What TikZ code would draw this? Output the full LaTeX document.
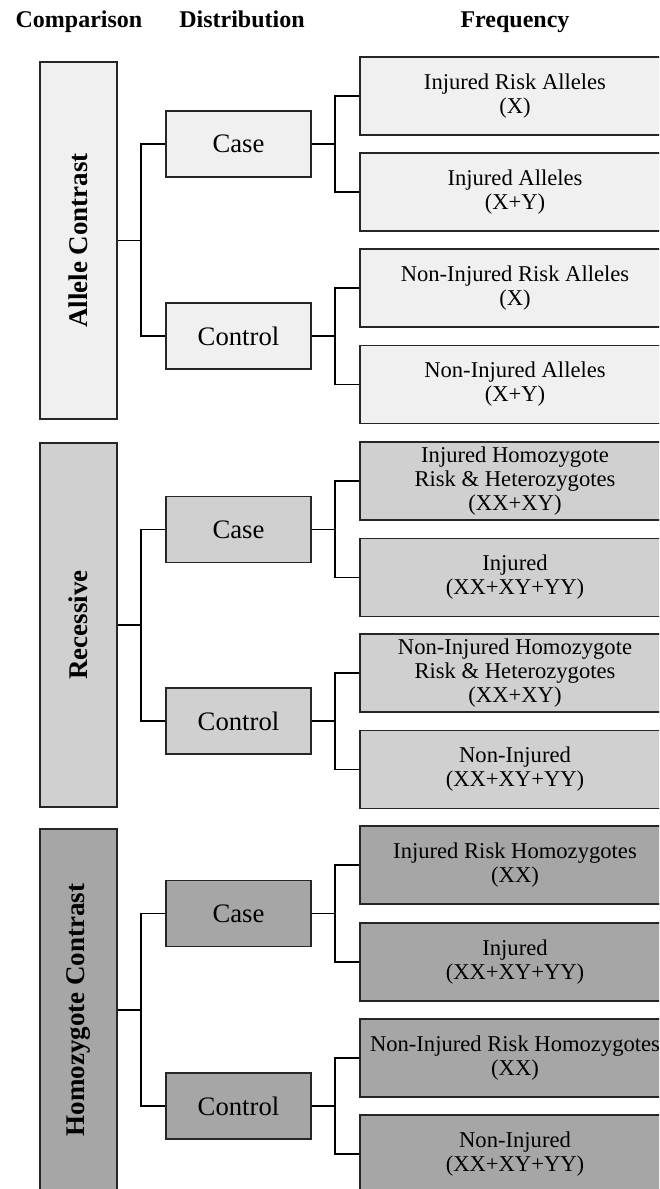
\documentclass[tikz,border=0pt]{standalone}
\usepackage{fontspec}
\setmainfont{Liberation Serif}
\definecolor{cA}{HTML}{F0F0F0}
\definecolor{cB}{HTML}{D0D0D0}
\definecolor{cC}{HTML}{A6A6A6}
\definecolor{bd}{HTML}{262626}
\tikzset{
  box/.style={draw=bd, line width=1.8pt, rectangle, inner sep=0pt, align=center},
  cmpbox/.style={box, minimum width=77pt, font=\fontsize{27}{30}\selectfont\bfseries},
  distbox/.style={box, minimum width=145pt, minimum height=66pt, font=\fontsize{26.7}{30}\selectfont},
  freqbox/.style={box, minimum width=310pt, minimum height=78pt, font=\fontsize{22.6}{24}\selectfont},
  hdr/.style={anchor=base, inner sep=0pt, font=\fontsize{24}{28}\selectfont\bfseries},
  conn/.style={draw=black, line width=1.4pt},
}
\begin{document}
\begin{tikzpicture}[x=1pt, y=-1pt]
\useasboundingbox (0,0) rectangle (659,1189);
\clip (0,0) rectangle (659,1189);
% headers
\node[hdr] (h1) at (79,27) {Comparison};
\node[hdr] (h2) at (242,27) {Distribution};
\node[hdr] (h3) at (515,27) {Frequency};

% ---------- Section 1 ----------
\node[cmpbox, fill=cA, minimum height=357pt] (a1) at (78.5,240.5) {\rotatebox{90}{Allele Contrast}};
\node[distbox, fill=cA] (s1case) at (238.5,144) {Case};
\node[distbox, fill=cA] (s1ctrl) at (238.5,336) {Control};
\node[freqbox, fill=cA] (s1f1) at (515,96) {Injured Risk Alleles\\(X)};
\node[freqbox, fill=cA] (s1f2) at (515,192) {Injured Alleles\\(X+Y)};
\node[freqbox, fill=cA] (s1f3) at (515,288) {Non-Injured Risk Alleles\\(X)};
\node[freqbox, fill=cA] (s1f4) at (515,384.5) {Non-Injured Alleles\\(X+Y)};
\coordinate (s1j) at (141,240.5);
\coordinate (s1k1) at (335,144);
\coordinate (s1k2) at (335,336);
\draw[conn] (a1.east) -- (s1j);
\draw[conn] (s1case.west) -| (s1j);
\draw[conn] (s1ctrl.west) -| (s1j);
\draw[conn] (s1case.east) -- (s1k1);
\draw[conn] (s1f1.west) -| (s1k1);
\draw[conn] (s1f2.west) -| (s1k1);
\draw[conn] (s1ctrl.east) -- (s1k2);
\draw[conn] (s1f3.west) -| (s1k2);
\draw[conn] (s1f4.west) -| (s1k2);

% ---------- Section 2 ----------
\node[cmpbox, fill=cB, minimum height=364pt] (a2) at (78.5,625) {\rotatebox{90}{Recessive}};
\node[distbox, fill=cB] (s2case) at (238.5,529.5) {Case};
\node[distbox, fill=cB] (s2ctrl) at (238.5,721) {Control};
\node[freqbox, fill=cB] (s2f1) at (515,481) {Injured Homozygote\\Risk \& Heterozygotes\\(XX+XY)};
\node[freqbox, fill=cB] (s2f2) at (515,577.5) {Injured\\(XX+XY+YY)};
\node[freqbox, fill=cB] (s2f3) at (515,673) {Non-Injured Homozygote\\Risk \& Heterozygotes\\(XX+XY)};
\node[freqbox, fill=cB] (s2f4) at (515,769.5) {Non-Injured\\(XX+XY+YY)};
\coordinate (s2j) at (141,625);
\coordinate (s2k1) at (335,529.5);
\coordinate (s2k2) at (335,721);
\draw[conn] (a2.east) -- (s2j);
\draw[conn] (s2case.west) -| (s2j);
\draw[conn] (s2ctrl.west) -| (s2j);
\draw[conn] (s2case.east) -- (s2k1);
\draw[conn] (s2f1.west) -| (s2k1);
\draw[conn] (s2f2.west) -| (s2k1);
\draw[conn] (s2ctrl.east) -- (s2k2);
\draw[conn] (s2f3.west) -| (s2k2);
\draw[conn] (s2f4.west) -| (s2k2);

% ---------- Section 3 ----------
\node[cmpbox, fill=cC, minimum height=362pt] (a3) at (78.5,1010) {\rotatebox{90}{Homozygote Contrast}};
\node[distbox, fill=cC] (s3case) at (238.5,913.5) {Case};
\node[distbox, fill=cC] (s3ctrl) at (238.5,1106) {Control};
\node[freqbox, fill=cC] (s3f1) at (515,865) {Injured Risk Homozygotes\\(XX)};
\node[freqbox, fill=cC] (s3f2) at (515,962) {Injured\\(XX+XY+YY)};
\node[freqbox, fill=cC] (s3f3) at (515,1058) {Non-Injured Risk Homozygotes\\(XX)};
\node[freqbox, fill=cC] (s3f4) at (515,1154) {Non-Injured\\(XX+XY+YY)};
\coordinate (s3j) at (141,1010);
\coordinate (s3k1) at (335,913.5);
\coordinate (s3k2) at (335,1106);
\draw[conn] (a3.east) -- (s3j);
\draw[conn] (s3case.west) -| (s3j);
\draw[conn] (s3ctrl.west) -| (s3j);
\draw[conn] (s3case.east) -- (s3k1);
\draw[conn] (s3f1.west) -| (s3k1);
\draw[conn] (s3f2.west) -| (s3k1);
\draw[conn] (s3ctrl.east) -- (s3k2);
\draw[conn] (s3f3.west) -| (s3k2);
\draw[conn] (s3f4.west) -| (s3k2);
\end{tikzpicture}
\end{document}
